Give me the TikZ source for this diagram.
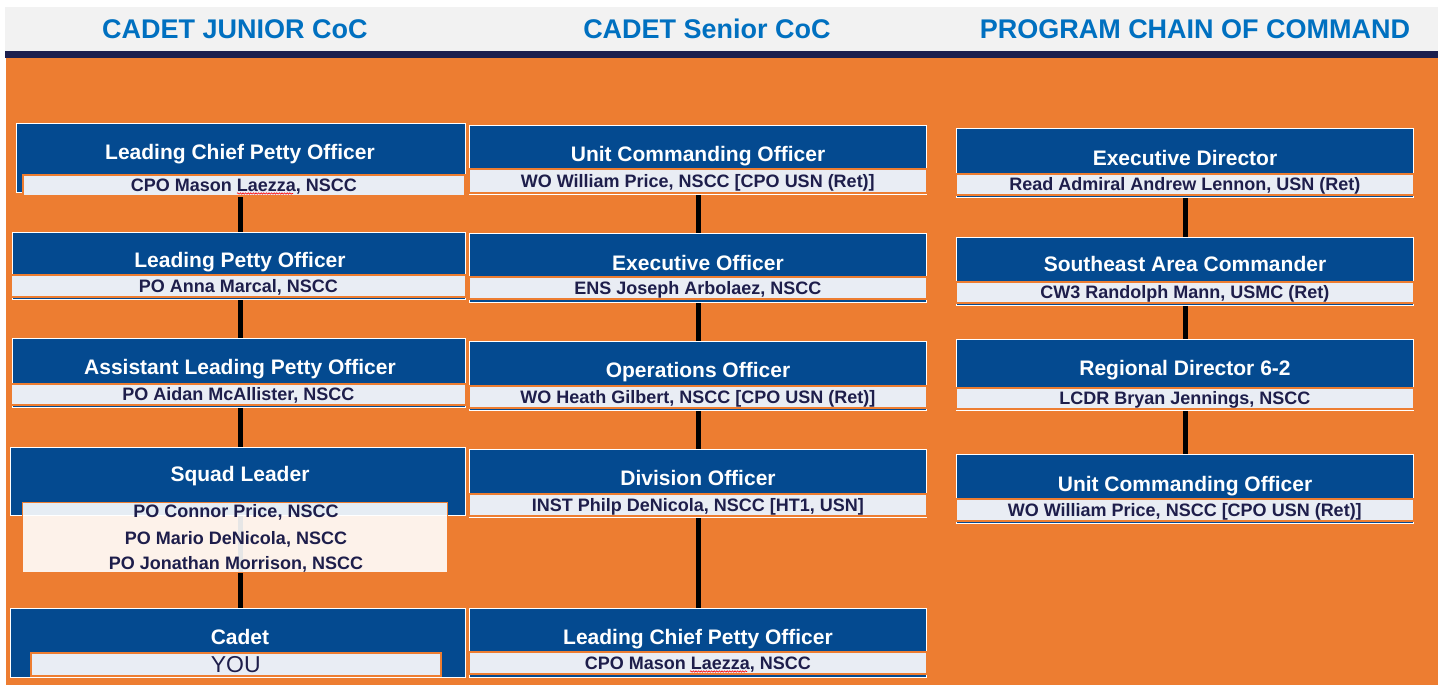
\documentclass[tikz,border=0pt]{standalone}
\usepackage{fontspec}
\setmainfont{Liberation Sans}
\usetikzlibrary{decorations.pathmorphing}
\definecolor{orng}{HTML}{ED7D31}
\definecolor{bluebox}{HTML}{044A90}
\definecolor{barfill}{HTML}{E9EDF4}
\definecolor{navy}{HTML}{1C1F4E}
\definecolor{hdr}{HTML}{F2F2F2}
\definecolor{ttlblue}{HTML}{0070C0}
\definecolor{nametxt}{HTML}{1E1E4B}
\begin{document}
\begin{tikzpicture}[x=1pt,y=-1pt,
  rect/.style n args={4}{anchor=north west, at={(#1,#2)}, inner sep=0pt,
     minimum width={(#3-#1)*1pt}, minimum height={(#4-#2)*1pt}},
  outerbox/.style={draw=white, line width=1.4pt, fill=bluebox},
  bar/.style={draw=orng, line width=1.6pt, fill=barfill, text=nametxt,
     font=\bfseries\fontsize{18}{18}\selectfont, text height=12.9pt, text depth=0pt},
  ttl/.style={text=white, inner sep=0pt, font=\bfseries\fontsize{21}{21}\selectfont,
     text height=15pt, text depth=0pt},
  hdrttl/.style={text=ttlblue, inner sep=0pt, font=\bfseries\fontsize{27}{27}\selectfont,
     text height=19.3pt, text depth=0pt},
  nm/.style={text=nametxt, inner sep=0pt, font=\bfseries\fontsize{18}{18}\selectfont,
     text height=12.9pt, text depth=0pt},
  conn/.style={draw=black, line width=5pt},
  spell/.style={draw=red, line width=0.6pt, decorate,
     decoration={snake, amplitude=0.7pt, segment length=2.6pt}}
]
\useasboundingbox (0,0) rectangle (1440,685);
\fill[white] (0,0) rectangle (1440,685);
\fill[hdr] (5,7) rectangle (1438,51);
\fill[navy] (5,51) rectangle (1438,58);
\fill[orng] (6,58) rectangle (1438,685);

% header titles
\node[hdrttl] (h1) at (235,29) {CADET JUNIOR CoC};
\node[hdrttl] (h2) at (707,29) {CADET Senior CoC};
\node[hdrttl] (h3) at (1195,29) {PROGRAM CHAIN OF COMMAND};

% ---------- outer boxes ----------
% junior
\node[outerbox, rect={16}{123}{465}{192}] (j1) {};
\node[outerbox, rect={12}{232}{465}{299}] (j2) {};
\node[outerbox, rect={12}{338}{465}{407}] (j3) {};
\node[outerbox, rect={10}{447}{465}{515}] (j4) {};
\node[outerbox, rect={10}{608}{465}{677}] (j5) {};
% senior
\node[outerbox, rect={469}{125}{926}{194}] (s1) {};
\node[outerbox, rect={469}{233}{926}{302}] (s2) {};
\node[outerbox, rect={469}{341}{926}{410}] (s3) {};
\node[outerbox, rect={469}{449}{926}{517}] (s4) {};
\node[outerbox, rect={469}{608}{926}{677}] (s5) {};
% program
\node[outerbox, rect={956}{128}{1413}{197}] (p1) {};
\node[outerbox, rect={956}{237}{1413}{305}] (p2) {};
\node[outerbox, rect={956}{339}{1413}{410}] (p3) {};
\node[outerbox, rect={956}{454}{1413}{523}] (p4) {};

% ---------- titles ----------
\node[ttl] (j1t) at (240,152) {Leading Chief Petty Officer};
\node[ttl] (j2t) at (240,260) {Leading Petty Officer};
\node[ttl] (j3t) at (240,367) {Assistant Leading Petty Officer};
\node[ttl] (j4t) at (240,474) {Squad Leader};
\node[ttl] (j5t) at (240,637) {Cadet};

\node[ttl] (s1t) at (698,154) {Unit Commanding Officer};
\node[ttl] (s2t) at (698,263) {Executive Officer};
\node[ttl] (s3t) at (698,370) {Operations Officer};
\node[ttl] (s4t) at (698,478) {Division Officer};
\node[ttl] (s5t) at (698,637) {Leading Chief Petty Officer};

\node[ttl] (p1t) at (1185,158) {Executive Director};
\node[ttl] (p2t) at (1185,264) {Southeast Area Commander};
\node[ttl] (p3t) at (1185,368) {Regional Director 6-2};
\node[ttl] (p4t) at (1185,484) {Unit Commanding Officer};

% ---------- connectors ----------
\draw[conn] (j1t |- j1.south) -- (j1t |- j2.north);
\draw[conn] (j1t |- j2.south) -- (j1t |- j3.north);
\draw[conn] (j1t |- j3.south) -- (j1t |- j4.north);
\draw[conn] (j1t |- j4.south) -- (j1t |- j5.north);

\draw[conn] (s1t |- s1.south) -- (s1t |- s2.north);
\draw[conn] (s1t |- s2.south) -- (s1t |- s3.north);
\draw[conn] (s1t |- s3.south) -- (s1t |- s4.north);
\draw[conn] (s1t |- s4.south) -- (s1t |- s5.north);

\draw[conn] (p1t |- p1.south) -- (p1t |- p2.north);
\draw[conn] (p1t |- p2.south) -- (p1t |- p3.north);
\draw[conn] (p1t |- p3.south) -- (p1t |- p4.north);

% ---------- name bars ----------
\node[bar, rect={22}{174}{464}{195}] (j1b) {CPO Mason Laezza, NSCC};
\node[bar, rect={10}{274}{465}{296}] (j2b) {PO Anna Marcal, NSCC};
\node[bar, rect={10}{383}{465}{404}] (j3b) {PO Aidan McAllister, NSCC};
\node[draw=orng, line width=1.2pt, fill=white, fill opacity=0.9, rect={22}{502}{447}{572}] (j4b) {};
\node[nm] (j4n1) at (236,511) {PO Connor Price, NSCC};
\node[nm] (j4n2) at (236,538) {PO Mario DeNicola, NSCC};
\node[nm] (j4n3) at (236,563) {PO Jonathan Morrison, NSCC};
\node[bar, rect={30}{652}{440}{675}, font=\fontsize{23}{23}\selectfont, text height=16.5pt] (j5b) {YOU};

\node[bar, rect={468}{168}{926}{192}] (s1b) {WO William Price, NSCC [CPO USN (Ret)]};
\node[bar, rect={468}{276}{926}{298}] (s2b) {ENS Joseph Arbolaez, NSCC};
\node[bar, rect={468}{385}{926}{407}] (s3b) {WO Heath Gilbert, NSCC [CPO USN (Ret)]};
\node[bar, rect={468}{493}{926}{515}] (s4b) {INST Philp DeNicola, NSCC [HT1, USN]};
\node[bar, rect={468}{651}{926}{673}] (s5b) {CPO Mason Laezza, NSCC};

\node[bar, rect={955}{173}{1413}{194}] (p1b) {Read Admiral Andrew Lennon, USN (Ret)};
\node[bar, rect={955}{281}{1413}{302}] (p2b) {CW3 Randolph Mann, USMC (Ret)};
\node[bar, rect={955}{387}{1413}{408}] (p3b) {LCDR Bryan Jennings, NSCC};
\node[bar, rect={955}{498}{1413}{520}] (p4b) {WO William Price, NSCC [CPO USN (Ret)]};

% spell-check marks
\draw[spell] (237,193.5) -- (293,193.5);
\draw[spell] (690,671.5) -- (747,671.5);
\end{tikzpicture}
\end{document}
